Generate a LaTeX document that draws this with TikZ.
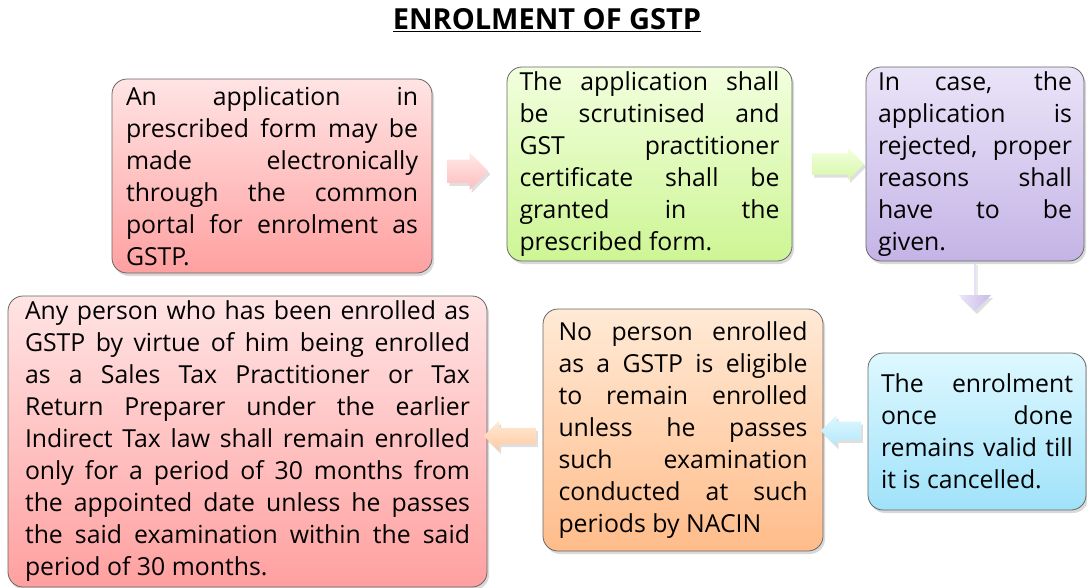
\documentclass[tikz,border=0pt]{standalone}
\usepackage{fontspec}
\setmainfont{Open Sans}
\usetikzlibrary{calc,shapes.arrows,shadows}

\definecolor{redtop}{RGB}{255,228,228}
\definecolor{redbot}{RGB}{255,160,160}
\definecolor{greentop}{RGB}{242,255,222}
\definecolor{greenbot}{RGB}{205,245,148}
\definecolor{purpletop}{RGB}{234,228,248}
\definecolor{purplebot}{RGB}{196,180,230}
\definecolor{cyantop}{RGB}{222,248,255}
\definecolor{cyanbot}{RGB}{160,226,250}
\definecolor{orangetop}{RGB}{255,234,214}
\definecolor{orangebot}{RGB}{255,188,138}

\begin{document}
\begin{tikzpicture}[
  x=1pt,y=-1pt,
  every node/.style={font=\fontsize{24.8}{32}\selectfont},
  boxes/.style n args={3}{rectangle,rounded corners=15pt,draw=black!60,line width=0.8pt,align=justify,inner xsep=0pt,inner ysep=0pt,minimum width=#1,minimum height=#2,text width=#3,drop shadow={opacity=0.3,shadow xshift=2pt,shadow yshift=-3pt}},
  flow/.style n args={3}{single arrow,draw=none,inner sep=0pt,text height=#3,text depth=0pt,minimum height=#1,minimum width=#2,single arrow head extend=(#2-#3)/2,drop shadow={opacity=0.25,shadow xshift=2pt,shadow yshift=-3pt}},
]
\useasboundingbox (0,0) rectangle (1087,587);

\node (title) at (547,20) {\fontsize{29}{34}\selectfont\bfseries\underline{ENROLMENT OF GSTP}};

% top row
\node (app) [boxes={320}{194}{292},top color=redtop,bottom color=redbot] at (272,176) {
An application in\linebreak prescribed form may be\linebreak made electronically\linebreak through the common\linebreak portal for enrolment as\linebreak GSTP.};
\node (scrut) [boxes={285}{194}{260},top color=greentop,bottom color=greenbot] at (649.5,164) {
The application shall\linebreak be scrutinised and\linebreak GST practitioner\linebreak certificate shall be\linebreak granted in the\linebreak prescribed form.};
\node (reject) [boxes={218}{194}{194},top color=purpletop,bottom color=purplebot] at (975,164) {
In case, the\linebreak application is\linebreak rejected, proper\linebreak reasons shall\linebreak have to be\linebreak given.};

% bottom row
\node (valid) [boxes={218}{157}{192},top color=cyantop,bottom color=cyanbot] at (977,431.5) {
The enrolment\linebreak once done\linebreak remains valid till\linebreak it is cancelled.};
\node (nacin) [boxes={280}{242}{249},top color=orangetop,bottom color=orangebot] at (683,430) {
No person enrolled\linebreak as a GSTP is eligible\linebreak to remain enrolled\linebreak unless he passes\linebreak such examination\linebreak conducted at such\linebreak periods by NACIN};
\node (earlier) [boxes={479}{291}{445},top color=redtop,bottom color=redbot] at (247.5,441.5) {
Any person who has been enrolled as\linebreak GSTP by virtue of him being enrolled\linebreak as a Sales Tax Practitioner or Tax\linebreak Return Preparer under the earlier\linebreak Indirect Tax law shall remain enrolled\linebreak only for a period of 30 months from\linebreak the appointed date unless he passes\linebreak the said examination within the said\linebreak period of 30 months.};

% block arrows
\node (a1) [flow={41}{37}{23},top color=redtop!80,bottom color=redbot!70] at ($(app.east)!0.4!(scrut.west)$ |- 0,168) {};
\node (a2) [flow={52}{32}{21},top color=greentop,bottom color=greenbot!80] at ($(scrut.east)!0.55!(reject.west)$) {};
\node (a3) [flow={49}{32}{20},shape border rotate=270,left color=purpletop,right color=purplebot!90] at ([yshift=-25pt]reject.south) {};
\node (a4) [flow={40}{31}{18},shape border rotate=180,top color=cyantop,bottom color=cyanbot!80] at ($(valid.west)!0.5!(nacin.east)$) {};
\node (a5) [flow={52}{30}{16},shape border rotate=180,top color=orangetop,bottom color=orangebot!80] at ($(nacin.west)!0.52!(earlier.east)$ |- 0,435) {};
\end{tikzpicture}
\end{document}
